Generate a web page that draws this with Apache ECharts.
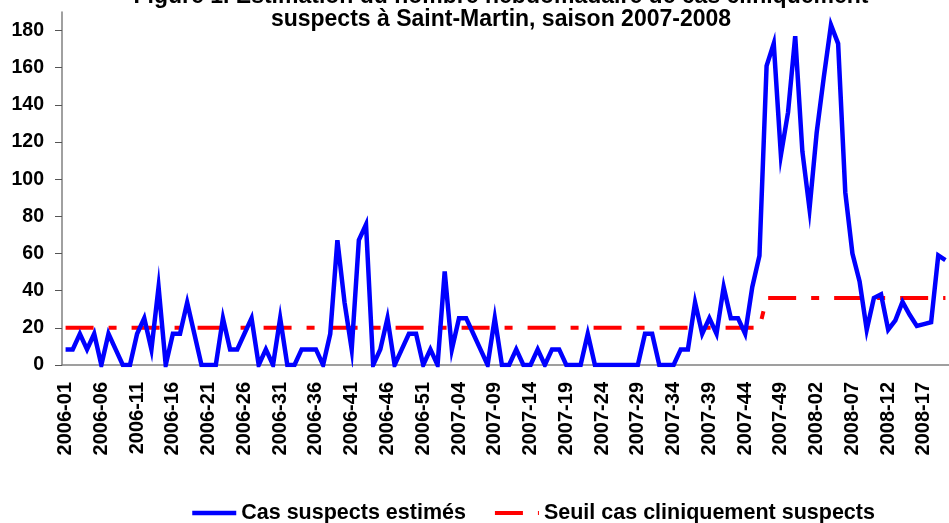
<!DOCTYPE html>
<html>
<head>
<meta charset="utf-8">
<title>Saint-Martin 2007-2008</title>
<script src="https://cdn.jsdelivr.net/npm/echarts@6/dist/echarts.min.js"></script>
<style>
  html, body { margin: 0; padding: 0; background: #fff; }
  #chart { width: 949px; height: 523px; }
</style>
</head>
<body>
<div id="chart"></div>
<script>
// weeks shown on the axis
var years = [2006, 2007, 2008];
var weeksInYear = [52, 52, 20];

// y axis ticks
var yTicks = [0, 20, 40, 60, 80, 100, 120, 140, 160, 180];

// estimated suspect cases, one value per week (2006-01 .. 2008-20)
var cases = [
  8.4, 8.4, 16.8, 8.4, 16.8, 0, 16.8, 8.4, 0, 0,
  16.8, 25.2, 8.4, 42, 0, 16.8, 16.8, 33.6, 16.8, 0,
  0, 0, 25.2, 8.4, 8.4, 16.8, 25.2, 0, 8.4, 0,
  25.2, 0, 0, 8.4, 8.4, 8.4, 0, 16.8, 67.2, 33.6,
  8.4, 67.2, 75.6, 0, 8.4, 25.2, 0, 8.4, 16.8, 16.8,
  0, 8.4, 0, 50.4, 8.4, 25.2, 25.2, 16.8, 8.4, 0,
  25.2, 0, 0, 8.4, 0, 0, 8.4, 0, 8.4, 8.4,
  0, 0, 0, 16.8, 0, 0, 0, 0, 0, 0,
  0, 16.8, 16.8, 0, 0, 0, 8.4, 8.4, 33.6, 16.8,
  25.2, 16.8, 42, 25.2, 25.2, 16.8, 42, 58.8, 161, 173,
  113, 136, 177, 115, 84, 125, 155, 183, 173, 93,
  60, 45, 19, 36, 38, 19, 24, 34, 27, 21,
  22, 23, 59, 56.5
];

// threshold of clinically suspect cases
var threshold = [
  20, 20, 20, 20, 20, 20, 20, 20, 20, 20,
  20, 20, 20, 20, 20, 20, 20, 20, 20, 20,
  20, 20, 20, 20, 20, 20, 20, 20, 20, 20,
  20, 20, 20, 20, 20, 20, 20, 20, 20, 20,
  20, 20, 20, 20, 20, 20, 20, 20, 20, 20,
  20, 20, 20, 20, 20, 20, 20, 20, 20, 20,
  20, 20, 20, 20, 20, 20, 20, 20, 20, 20,
  20, 20, 20, 20, 20, 20, 20, 20, 20, 20,
  20, 20, 20, 20, 20, 20, 20, 20, 20, 20,
  20, 20, 20, 20, 20, 20, 20, 20, 36, 36,
  36, 36, 36, 36, 36, 36, 36, 36, 36, 36,
  36, 36, 36, 36, 36, 36, 36, 36, 36, 36,
  36, 36, 36, 36
];

var weeks = [];
for (var y = 0; y < years.length; y++) {
  for (var w = 1; w <= weeksInYear[y]; w++) {
    weeks.push(years[y] + '-' + (w < 10 ? '0' + w : w));
  }
}

var font = 'Liberation Sans, Arial, sans-serif';
var chart = echarts.init(document.getElementById('chart'), null, { renderer: 'canvas' });

var option = {
  animation: false,
  backgroundColor: '#ffffff',
  title: {
    text: 'Figure 1. Estimation du nombre hebdomadaire de cas cliniquement\nsuspects à Saint-Martin, saison 2007-2008',
    left: 501,
    textAlign: 'center',
    top: -15,
    padding: 0,
    textStyle: {
      fontFamily: font,
      fontWeight: 'bold',
      fontSize: 23,
      lineHeight: 23,
      color: '#000',
      align: 'center'
    }
  },
  legend: {
    left: 190,
    top: 502,
    padding: 0,
    itemWidth: 44,
    itemHeight: 20,
    itemGap: 27,
    itemStyle: { opacity: 0 },
    textStyle: {
      fontFamily: font,
      fontWeight: 'bold',
      fontSize: 21.5,
      color: '#000'
    },
    data: [
      { name: 'Cas suspects estimés', lineStyle: { width: 4.5 } },
      { name: 'Seuil cas cliniquement suspects', lineStyle: { width: 4 } }
    ]
  },
  grid: {
    left: 62,
    top: 12,
    width: 890,
    height: 353
  },
  xAxis: {
    type: 'category',
    data: weeks,
    boundaryGap: true,
    axisLine: { lineStyle: { color: '#808080', width: 1.5 } },
    axisTick: { interval: 0, length: 6, lineStyle: { color: '#555', width: 1 } },
    axisLabel: {
      interval: 4,
      rotate: 90,
      margin: 17,
      fontFamily: font,
      fontWeight: 'bold',
      fontSize: 20,
      color: '#000'
    },
    splitLine: { show: false }
  },
  yAxis: {
    type: 'value',
    min: 0,
    max: 190,
    interval: 20,
    axisLine: { show: true, lineStyle: { color: '#808080', width: 1.5 } },
    axisTick: { show: true, length: 7, customValues: yTicks, lineStyle: { color: '#555', width: 1 } },
    axisLabel: {
      customValues: yTicks,
      margin: 18,
      fontFamily: font,
      fontWeight: 'bold',
      fontSize: 19.5,
      color: '#000'
    },
    splitLine: { show: false }
  },
  series: [
    {
      name: 'Seuil cas cliniquement suspects',
      type: 'line',
      data: threshold,
      showSymbol: false,
      symbol: 'none',
      z: 2,
      lineStyle: { color: '#ff0000', width: 4, type: [28, 15, 8, 15], cap: 'butt' },
      itemStyle: { color: '#ff0000' }
    },
    {
      name: 'Cas suspects estimés',
      type: 'line',
      data: cases,
      showSymbol: false,
      symbol: 'none',
      z: 3,
      lineStyle: { color: '#0000ff', width: 4.5, join: 'miter' },
      itemStyle: { color: '#0000ff' }
    }
  ]
};

chart.setOption(option);
</script>
</body>
</html>
